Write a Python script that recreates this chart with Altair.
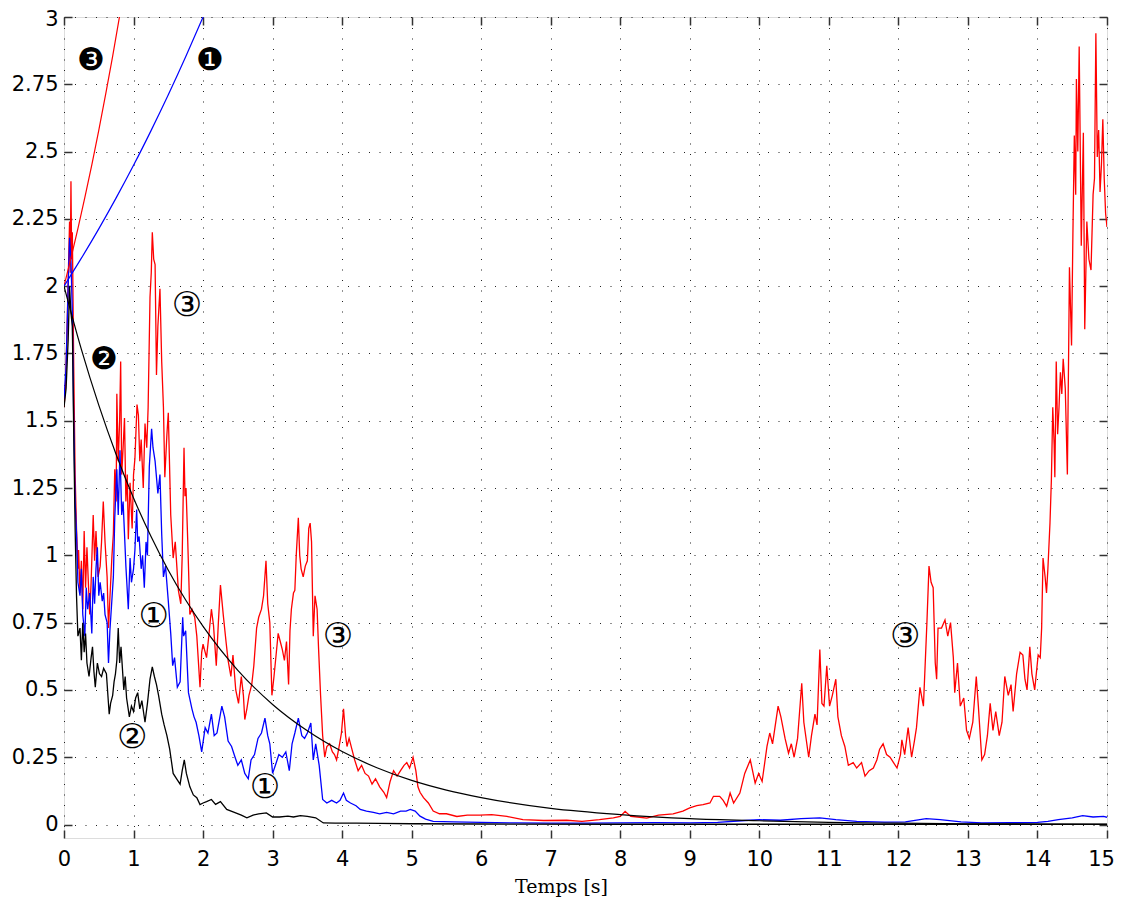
import altair as alt
import pandas as pd

# ---------------- data ----------------
red_pts = [
    (0.00, 1.55), (0.02, 1.62), (0.04, 1.80), (0.06, 2.02), (0.08, 2.24), (0.09, 2.05),
    (0.10, 2.39), (0.11, 2.10), (0.12, 2.20), (0.14, 1.70), (0.16, 1.30), (0.18, 1.10),
    (0.20, 0.95), (0.21, 1.02), (0.23, 0.86), (0.25, 0.98), (0.27, 0.80), (0.29, 1.09),
    (0.31, 0.88), (0.33, 1.03), (0.35, 0.90), (0.37, 0.78), (0.39, 0.90), (0.42, 1.15),
    (0.44, 0.98), (0.46, 1.09), (0.49, 0.92), (0.52, 0.96), (0.54, 1.05), (0.565, 1.20),
    (0.59, 1.05), (0.62, 0.92), (0.64, 0.73), (0.66, 0.84), (0.69, 1.00), (0.71, 1.08),
    (0.73, 1.32), (0.75, 1.20), (0.76, 1.60), (0.78, 1.35), (0.80, 1.50), (0.815, 1.72),
    (0.83, 1.30), (0.85, 1.40), (0.87, 1.51), (0.89, 1.20), (0.91, 1.30), (0.925, 1.06),
    (0.95, 1.27), (0.98, 1.10), (1.00, 1.30), (1.02, 1.36), (1.05, 1.56), (1.07, 1.52),
    (1.09, 1.35), (1.11, 1.43), (1.14, 1.25), (1.165, 1.49), (1.19, 1.40), (1.21, 1.55),
    (1.237, 1.96), (1.255, 2.05), (1.27, 2.20), (1.29, 2.10), (1.31, 2.08), (1.33, 1.67),
    (1.35, 1.85), (1.38, 1.99), (1.405, 1.72), (1.43, 1.55), (1.45, 1.29), (1.48, 1.45),
    (1.50, 1.53), (1.535, 1.15), (1.57, 0.99), (1.60, 1.05), (1.645, 0.87), (1.68, 0.82),
    (1.70, 1.00), (1.726, 1.40), (1.74, 1.22), (1.755, 1.25), (1.78, 1.05), (1.81, 0.78),
    (1.84, 0.80), (1.88, 0.77), (1.91, 0.70), (1.956, 0.51), (1.98, 0.64), (2.00, 0.67),
    (2.05, 0.62), (2.09, 0.72), (2.12, 0.80), (2.15, 0.74), (2.19, 0.59), (2.22, 0.75),
    (2.25, 0.89), (2.29, 0.78), (2.33, 0.68), (2.36, 0.61), (2.40, 0.55), (2.43, 0.63),
    (2.47, 0.50), (2.51, 0.45), (2.55, 0.55), (2.58, 0.48), (2.60, 0.39), (2.63, 0.43),
    (2.66, 0.48), (2.70, 0.52), (2.73, 0.59), (2.77, 0.73), (2.80, 0.77), (2.84, 0.80),
    (2.87, 0.85), (2.905, 0.98), (2.93, 0.82), (2.96, 0.75), (2.99, 0.48), (3.02, 0.55),
    (3.05, 0.63), (3.08, 0.71), (3.11, 0.68), (3.14, 0.65), (3.17, 0.61), (3.20, 0.68),
    (3.23, 0.52), (3.25, 0.72), (3.27, 0.80), (3.30, 0.86), (3.32, 0.87), (3.34, 1.00),
    (3.37, 1.14), (3.39, 1.00), (3.41, 0.95), (3.44, 0.92), (3.47, 0.96), (3.50, 0.98),
    (3.52, 1.10), (3.54, 1.12), (3.56, 1.05), (3.585, 0.70), (3.61, 0.85), (3.64, 0.80),
    (3.66, 0.66), (3.69, 0.48), (3.72, 0.33), (3.75, 0.25), (3.78, 0.29), (3.82, 0.30),
    (3.86, 0.27), (3.89, 0.26), (3.92, 0.24), (3.95, 0.28), (3.99, 0.34), (4.02, 0.43),
    (4.05, 0.33), (4.07, 0.29), (4.10, 0.32), (4.14, 0.28), (4.18, 0.24), (4.23, 0.20),
    (4.28, 0.22), (4.33, 0.19), (4.38, 0.18), (4.43, 0.15), (4.48, 0.17), (4.54, 0.14),
    (4.60, 0.12), (4.64, 0.10), (4.69, 0.16), (4.74, 0.20), (4.79, 0.18), (4.84, 0.20),
    (4.89, 0.22), (4.93, 0.23), (4.97, 0.21), (5.02, 0.25), (5.06, 0.20), (5.09, 0.14),
    (5.12, 0.12), (5.17, 0.10), (5.24, 0.08), (5.31, 0.05), (5.40, 0.04), (5.50, 0.04),
    (5.65, 0.03), (5.80, 0.035), (5.98, 0.035), (6.15, 0.037), (6.37, 0.03), (6.60, 0.018),
    (6.90, 0.015), (7.23, 0.016), (7.45, 0.012), (7.70, 0.018), (7.90, 0.025), (8.00, 0.03),
    (8.07, 0.049), (8.15, 0.03), (8.25, 0.028), (8.38, 0.024), (8.55, 0.035), (8.76, 0.04),
    (8.90, 0.05), (9.00, 0.062), (9.10, 0.07), (9.19, 0.074), (9.29, 0.08), (9.34, 0.105),
    (9.43, 0.105), (9.48, 0.09), (9.53, 0.068), (9.58, 0.117), (9.63, 0.08), (9.72, 0.117),
    (9.79, 0.19), (9.87, 0.24), (9.94, 0.154), (9.99, 0.19), (10.04, 0.16), (10.11, 0.29),
    (10.15, 0.34), (10.19, 0.30), (10.27, 0.44), (10.31, 0.40), (10.37, 0.32), (10.42, 0.265),
    (10.46, 0.30), (10.50, 0.25), (10.55, 0.32), (10.61, 0.525), (10.64, 0.38), (10.71, 0.25),
    (10.75, 0.33), (10.80, 0.41), (10.83, 0.37), (10.87, 0.65), (10.90, 0.45), (10.93, 0.44),
    (10.97, 0.59), (11.01, 0.44), (11.05, 0.48), (11.10, 0.54), (11.13, 0.40), (11.18, 0.33),
    (11.23, 0.29), (11.28, 0.22), (11.35, 0.23), (11.40, 0.21), (11.47, 0.23), (11.52, 0.18),
    (11.58, 0.20), (11.64, 0.21), (11.69, 0.24), (11.73, 0.28), (11.78, 0.30), (11.83, 0.26),
    (11.88, 0.25), (11.93, 0.23), (11.98, 0.21), (12.03, 0.26), (12.05, 0.315), (12.09, 0.26),
    (12.14, 0.36), (12.19, 0.25), (12.23, 0.31), (12.26, 0.36), (12.31, 0.51), (12.36, 0.44),
    (12.41, 0.75), (12.44, 0.96), (12.47, 0.90), (12.50, 0.88), (12.53, 0.60), (12.55, 0.54),
    (12.57, 0.73), (12.62, 0.73), (12.67, 0.76), (12.71, 0.70), (12.75, 0.75), (12.79, 0.62),
    (12.81, 0.49), (12.85, 0.60), (12.89, 0.44), (12.94, 0.47), (12.98, 0.35), (13.02, 0.32),
    (13.07, 0.38), (13.12, 0.55), (13.15, 0.44), (13.20, 0.24), (13.24, 0.26), (13.28, 0.33),
    (13.32, 0.45), (13.36, 0.35), (13.40, 0.42), (13.45, 0.33), (13.49, 0.38), (13.53, 0.55),
    (13.58, 0.48), (13.62, 0.52), (13.65, 0.42), (13.70, 0.56), (13.75, 0.64), (13.79, 0.63),
    (13.82, 0.54), (13.85, 0.50), (13.89, 0.66), (13.92, 0.56), (13.96, 0.50), (14.01, 0.63),
    (14.04, 0.62), (14.06, 0.73), (14.08, 0.99), (14.11, 0.92), (14.13, 0.86), (14.15, 0.95),
    (14.18, 1.12), (14.20, 1.28), (14.22, 1.55), (14.24, 1.41), (14.25, 1.29), (14.27, 1.72),
    (14.29, 1.45), (14.31, 1.55), (14.33, 1.68), (14.35, 1.60), (14.37, 1.73), (14.40, 1.62),
    (14.43, 1.30), (14.45, 1.80), (14.46, 2.07), (14.49, 1.78), (14.51, 2.20), (14.53, 2.56),
    (14.55, 2.34), (14.56, 2.77), (14.58, 2.50), (14.60, 2.89), (14.63, 2.15), (14.66, 2.57),
    (14.68, 1.84), (14.71, 2.24), (14.74, 2.10), (14.77, 2.06), (14.80, 2.34), (14.82, 2.40),
    (14.84, 2.94), (14.86, 2.48), (14.88, 2.58), (14.90, 2.35), (14.92, 2.45), (14.94, 2.62),
    (14.96, 2.40), (14.98, 2.27), (15.00, 2.22),
]

blue_pts = [
    (0.00, 1.58), (0.03, 1.70), (0.06, 2.00), (0.08, 2.18), (0.10, 2.10), (0.12, 1.90),
    (0.14, 1.50), (0.16, 1.20), (0.18, 1.08), (0.20, 0.90), (0.23, 0.85), (0.25, 0.95),
    (0.27, 0.78), (0.30, 0.70), (0.32, 0.88), (0.34, 0.80), (0.37, 0.86), (0.40, 0.71),
    (0.42, 0.92), (0.44, 0.82), (0.46, 0.95), (0.48, 1.03), (0.50, 0.85), (0.52, 0.90),
    (0.55, 0.83), (0.57, 0.86), (0.59, 0.78), (0.62, 0.75), (0.64, 0.60), (0.66, 0.72),
    (0.69, 0.84), (0.71, 0.92), (0.73, 1.14), (0.76, 1.32), (0.78, 1.15), (0.805, 1.39),
    (0.83, 1.15), (0.85, 1.20), (0.87, 1.08), (0.89, 0.96), (0.925, 0.80), (0.95, 0.99),
    (0.97, 0.90), (1.00, 0.95), (1.02, 1.02), (1.045, 1.17), (1.06, 1.05), (1.08, 1.07),
    (1.11, 0.95), (1.13, 1.00), (1.155, 0.88), (1.18, 1.05), (1.20, 1.00), (1.227, 1.33),
    (1.26, 1.47), (1.28, 1.40), (1.31, 1.35), (1.35, 1.23), (1.38, 1.30), (1.405, 1.08),
    (1.43, 0.92), (1.46, 0.96), (1.50, 0.83), (1.535, 0.71), (1.563, 0.59), (1.59, 0.62),
    (1.63, 0.51), (1.67, 0.53), (1.707, 0.77), (1.72, 0.70), (1.75, 0.72), (1.79, 0.49),
    (1.84, 0.43), (1.87, 0.40), (1.90, 0.38), (1.94, 0.33), (1.98, 0.27), (2.03, 0.36),
    (2.07, 0.34), (2.12, 0.41), (2.16, 0.33), (2.20, 0.34), (2.27, 0.44), (2.31, 0.40),
    (2.36, 0.31), (2.41, 0.29), (2.46, 0.25), (2.50, 0.22), (2.55, 0.24), (2.60, 0.19),
    (2.65, 0.17), (2.69, 0.24), (2.74, 0.26), (2.79, 0.32), (2.84, 0.34), (2.89, 0.395),
    (2.93, 0.33), (2.96, 0.30), (3.00, 0.19), (3.04, 0.22), (3.09, 0.26), (3.14, 0.25),
    (3.19, 0.27), (3.24, 0.20), (3.28, 0.30), (3.32, 0.34), (3.37, 0.395), (3.42, 0.33),
    (3.46, 0.32), (3.50, 0.34), (3.55, 0.377), (3.585, 0.24), (3.62, 0.30), (3.67, 0.22),
    (3.72, 0.093), (3.78, 0.08), (3.85, 0.09), (3.92, 0.08), (3.97, 0.09), (4.02, 0.117),
    (4.06, 0.09), (4.12, 0.08), (4.20, 0.07), (4.26, 0.056), (4.35, 0.05), (4.45, 0.045),
    (4.54, 0.04), (4.64, 0.045), (4.74, 0.04), (4.84, 0.05), (4.92, 0.05), (4.98, 0.056),
    (5.05, 0.05), (5.12, 0.031), (5.20, 0.02), (5.31, 0.012), (5.60, 0.010), (6.00, 0.008),
    (6.50, 0.006), (7.00, 0.005), (7.50, 0.005), (8.00, 0.006), (8.50, 0.007), (9.00, 0.006),
    (9.40, 0.008), (9.80, 0.015), (10.00, 0.018), (10.30, 0.016), (10.60, 0.022), (10.87, 0.025),
    (11.10, 0.018), (11.40, 0.012), (11.80, 0.009), (12.10, 0.010), (12.40, 0.022), (12.60, 0.018),
    (12.90, 0.010), (13.20, 0.006), (13.60, 0.007), (14.00, 0.008), (14.15, 0.012), (14.30, 0.018),
    (14.50, 0.025), (14.65, 0.033), (14.80, 0.028), (14.95, 0.030), (15.00, 0.027),
]

black_pts = [
    (0.00, 1.55), (0.03, 1.62), (0.06, 1.80), (0.08, 2.00), (0.10, 1.90), (0.12, 1.85),
    (0.14, 1.45), (0.16, 1.10), (0.18, 0.85), (0.20, 0.70), (0.23, 0.73), (0.25, 0.61),
    (0.27, 0.75), (0.29, 0.64), (0.31, 0.71), (0.33, 0.60), (0.36, 0.55), (0.39, 0.62),
    (0.41, 0.66), (0.43, 0.57), (0.45, 0.51), (0.48, 0.60), (0.51, 0.56), (0.54, 0.55),
    (0.57, 0.58), (0.61, 0.56), (0.65, 0.41), (0.67, 0.45), (0.70, 0.48), (0.72, 0.53),
    (0.74, 0.56), (0.76, 0.61), (0.78, 0.73), (0.80, 0.60), (0.82, 0.66), (0.84, 0.58),
    (0.86, 0.50), (0.88, 0.55), (0.90, 0.47), (0.94, 0.40), (0.97, 0.44), (1.00, 0.42),
    (1.03, 0.47), (1.06, 0.49), (1.09, 0.43), (1.12, 0.46), (1.165, 0.38), (1.20, 0.45),
    (1.237, 0.54), (1.27, 0.586), (1.30, 0.55), (1.33, 0.52), (1.36, 0.48), (1.405, 0.41),
    (1.44, 0.37), (1.48, 0.33), (1.52, 0.28), (1.57, 0.19), (1.62, 0.17), (1.67, 0.15),
    (1.70, 0.20), (1.73, 0.24), (1.76, 0.19), (1.81, 0.14), (1.86, 0.11), (1.91, 0.10),
    (1.956, 0.074), (2.00, 0.08), (2.05, 0.085), (2.12, 0.093), (2.18, 0.075), (2.25, 0.085),
    (2.34, 0.056), (2.45, 0.045), (2.55, 0.035), (2.63, 0.025), (2.72, 0.035), (2.80, 0.04),
    (2.91, 0.043), (3.00, 0.028), (3.10, 0.028), (3.22, 0.031), (3.30, 0.028), (3.40, 0.033),
    (3.50, 0.03), (3.62, 0.025), (3.73, 0.006), (3.90, 0.005), (4.20, 0.005), (4.54, 0.004),
    (5.00, 0.003), (6.00, 0.002), (8.00, 0.001), (10.00, 0.001), (12.00, 0.001), (15.00, 0.001),
]

# smooth reference curves (read at coarse steps)
smooth_black_pts = [
    (0.0, 2.000), (0.25, 1.765), (0.5, 1.558), (0.75, 1.375), (1.0, 1.213), (1.25, 1.071),
    (1.5, 0.945), (1.75, 0.834), (2.0, 0.736), (2.5, 0.573), (3.0, 0.446), (3.5, 0.348),
    (4.0, 0.271), (4.5, 0.211), (5.0, 0.164), (5.5, 0.128), (6.0, 0.100), (7.0, 0.060),
    (8.0, 0.037), (9.0, 0.022), (10.0, 0.014), (11.0, 0.008), (12.0, 0.005), (13.0, 0.003),
    (14.0, 0.002), (15.0, 0.001),
]
smooth_red_pts = [
    (0.0, 2.000), (0.1, 2.104), (0.2, 2.214), (0.3, 2.330), (0.4, 2.451), (0.5, 2.579),
    (0.6, 2.714), (0.7, 2.855), (0.8, 3.004), (0.85, 3.081),
]
smooth_blue_pts = [
    (0.0, 2.000), (0.25, 2.104), (0.5, 2.213), (0.75, 2.328), (1.0, 2.449), (1.25, 2.577),
    (1.5, 2.711), (1.75, 2.852), (2.0, 3.000), (2.1, 3.061),
]

# annotations: filled (dingbat) numbers and circled numbers
dark_x = [0.39, 2.10, 0.575]
dark_y = [2.837, 2.837, 1.726]
dark_text = ["❸", "❶", "❷"]
ring_x = [1.77, 1.29, 0.98, 2.89, 3.94, 12.10]
ring_y = [1.926, 0.77, 0.32, 0.137, 0.696, 0.696]
ring_text = ["③", "①", "②", "①", "③", "③"]

x_ticks = list(range(0, 16))
y_ticks = [0, 0.25, 0.5, 0.75, 1, 1.25, 1.5, 1.75, 2, 2.25, 2.5, 2.75, 3]


def frame(pts):
    return pd.DataFrame({"t": [p[0] for p in pts], "v": [p[1] for p in pts]})


xs = alt.Scale(domain=[0, 15], nice=False, zero=False)
ys = alt.Scale(domain=[-0.05, 3], nice=False, zero=False)

LABEL_FONT = "DejaVu Sans"
GRID_DASH = [1, 9.5]

x_axis = alt.Axis(
    values=x_ticks, labelExpr="toString(datum.value)", grid=True, gridDash=GRID_DASH,
    gridColor="#222222", gridWidth=1, tickSize=8, tickColor="#333333", tickWidth=1.5,
    offset=-8, domain=False, labelFlush=False, labelOverlap=False,
    labelOffset={"condition": {"test": "datum.value == 15", "value": -6}, "value": 0},
    labelPadding=10, labelFont=LABEL_FONT, labelFontSize=21, labelColor="black",
    title="Temps [s]", titleFont="DejaVu Serif", titleFontSize=19, titleFontWeight="normal",
    titleColor="black", titleX=497, titleY=56, titleBaseline="middle", titleAlign="center",
)
y_axis = alt.Axis(
    values=y_ticks, labelExpr="toString(datum.value)", grid=True, gridDash=GRID_DASH,
    gridColor="#222222", gridWidth=1, tickSize=8, tickColor="#333333", tickWidth=1.5,
    offset=-8, domain=False, labelFlush=False, labelOverlap=False,
    labelOffset={"condition": {"test": "datum.value == 3", "value": 2}, "value": 0},
    labelPadding=6, labelFont=LABEL_FONT, labelFontSize=21, labelColor="black", title=None,
)
x_axis_top = alt.Axis(
    orient="top", values=x_ticks, labels=False, grid=False, tickSize=8, tickColor="#333333",
    tickWidth=1.5, offset=-8, domain=False, title=None,
)
y_axis_right = alt.Axis(
    orient="right", values=y_ticks, labels=False, grid=False, tickSize=8, tickColor="#333333",
    tickWidth=1.5, offset=-8, domain=False, title=None,
)


def line(pts, color, width=1.3, interp="linear", xa=None, ya=None):
    return alt.Chart(frame(pts)).mark_line(
        color=color, strokeWidth=width, clip=True, interpolate=interp
    ).encode(
        x=alt.X("t:Q", scale=xs, axis=xa),
        y=alt.Y("v:Q", scale=ys, axis=ya),
        order="t:Q",
    )


def labels(xv, yv, tv, size):
    return alt.Chart(pd.DataFrame({"t": xv, "v": yv, "s": tv})).mark_text(
        font="DejaVu Serif, DejaVu Sans, Noto Sans CJK JP", fontSize=size, color="black",
        align="center", baseline="middle",
    ).encode(
        x=alt.X("t:Q", scale=xs, axis=None),
        y=alt.Y("v:Q", scale=ys, axis=None),
        text="s:N",
    )


base = line(red_pts, "#ff0000", xa=x_axis, ya=y_axis)
blue = line(blue_pts, "#0000ff")
black = line(black_pts, "#000000")
s_red = line(smooth_red_pts, "#ff0000", width=1.2, interp="monotone")
s_blue = line(smooth_blue_pts, "#0000ff", width=1.2, interp="monotone")
s_black = line(smooth_black_pts, "#000000", width=1.2, interp="monotone",
               xa=x_axis_top, ya=y_axis_right)

ann_dark = labels(dark_x, dark_y, dark_text, 31)
ann_ring = labels(ring_x, ring_y, ring_text, 34)

chart = alt.layer(base, blue, black, s_red, s_blue, s_black, ann_dark, ann_ring).resolve_axis(
    x="independent", y="independent"
).properties(
    width=1043, height=821, autosize="none",
    padding={"left": 56, "top": 9, "right": 8, "bottom": 62},
).configure_view(
    stroke="black", strokeWidth=1.5
).configure(background="white")

chart.save("out.html", embed_options={"renderer": "svg", "actions": False})
